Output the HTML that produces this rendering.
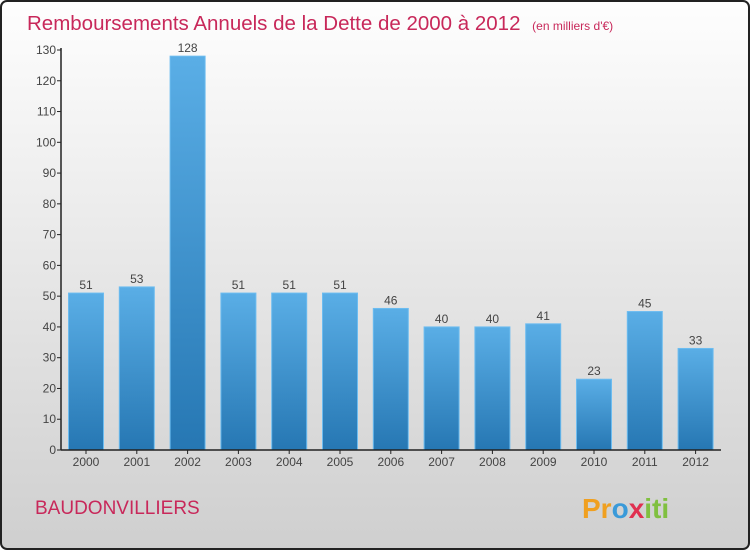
<!DOCTYPE html>
<html><head><meta charset="utf-8"><style>
body{margin:0;width:750px;height:550px;overflow:hidden;font-family:"Liberation Sans",sans-serif}
</style></head><body>
<svg width="750" height="550" xmlns="http://www.w3.org/2000/svg">
<defs>
<linearGradient id="bg" x1="0" y1="0" x2="0" y2="1"><stop offset="0" stop-color="#fefefe"/><stop offset="1" stop-color="#cfcfcf"/></linearGradient>
<linearGradient id="bar" x1="0" y1="0" x2="0" y2="1"><stop offset="0" stop-color="#5aaee6"/><stop offset="1" stop-color="#2677b3"/></linearGradient>
</defs>
<rect x="1" y="1" width="748" height="548" rx="6" fill="url(#bg)" stroke="#222" stroke-width="2"/>
<text x="27" y="30" font-size="20.5" fill="#c8285a">Remboursements Annuels de la Dette de 2000 à 2012 <tspan font-size="12" dx="6">(en milliers d'€)</tspan></text>
<text x="35" y="514" font-size="19" fill="#c8285a">BAUDONVILLIERS</text>
<text x="582" y="518" font-size="28" font-weight="bold"><tspan fill="#f0a020">Pr</tspan><tspan fill="#3a9ad9">o</tspan><tspan fill="#e03050">x</tspan><tspan fill="#80c040">iti</tspan></text>
<g id="plot"></g>
</svg>
<script>
const categories=["2000","2001","2002","2003","2004","2005","2006","2007","2008","2009","2010","2011","2012"];
const values=[51,53,128,51,51,51,46,40,40,41,23,45,33];
const yTicks=[0,10,20,30,40,50,60,70,80,90,100,110,120,130];
const NS="http://www.w3.org/2000/svg";
const g=document.getElementById("plot");
const y0=450,pxPer=400/130,x0=61;
const yS=v=>y0-v*pxPer;
const xS=i=>86+50.8*i;
function mk(t,a){const e=document.createElementNS(NS,t);for(const k in a)e.setAttribute(k,a[k]);g.appendChild(e);return e;}
yTicks.forEach(t=>{
 const l=mk("line",{x1:x0-4,x2:x0,y1:yS(t),y2:yS(t),stroke:"#222"});
 
 
 const tx=mk("text",{x:x0-5,y:yS(t)+4,"font-size":"12","text-anchor":"end",fill:"#444"});
 tx.textContent=t;
 
 
});
values.forEach((v,i)=>{
 const r=mk("rect",{x:xS(i)-17.5,y:yS(v),width:35,height:v*pxPer,fill:"url(#bar)",stroke:"#6cbcf0","stroke-width":"1"});
 
 
 const vl=mk("text",{x:xS(i),y:yS(v)-4,"font-size":"12","text-anchor":"middle",fill:"#444"});
 vl.textContent=v;
 
 
 const xt=mk("line",{x1:xS(i),x2:xS(i),y1:y0,y2:y0+4,stroke:"#222"});
 
 
 const cl=mk("text",{x:xS(i),y:y0+16,"font-size":"12","text-anchor":"middle",fill:"#444"});
 cl.textContent=categories[i];
 
 
});
const ya=mk("line",{x1:x0,x2:x0,y1:yS(130)-2,y2:y0,stroke:"#222","stroke-width":"1.5"});


const xa=mk("line",{x1:x0,x2:721,y1:y0,y2:y0,stroke:"#222","stroke-width":"1.5"});


</script>
</body></html>
